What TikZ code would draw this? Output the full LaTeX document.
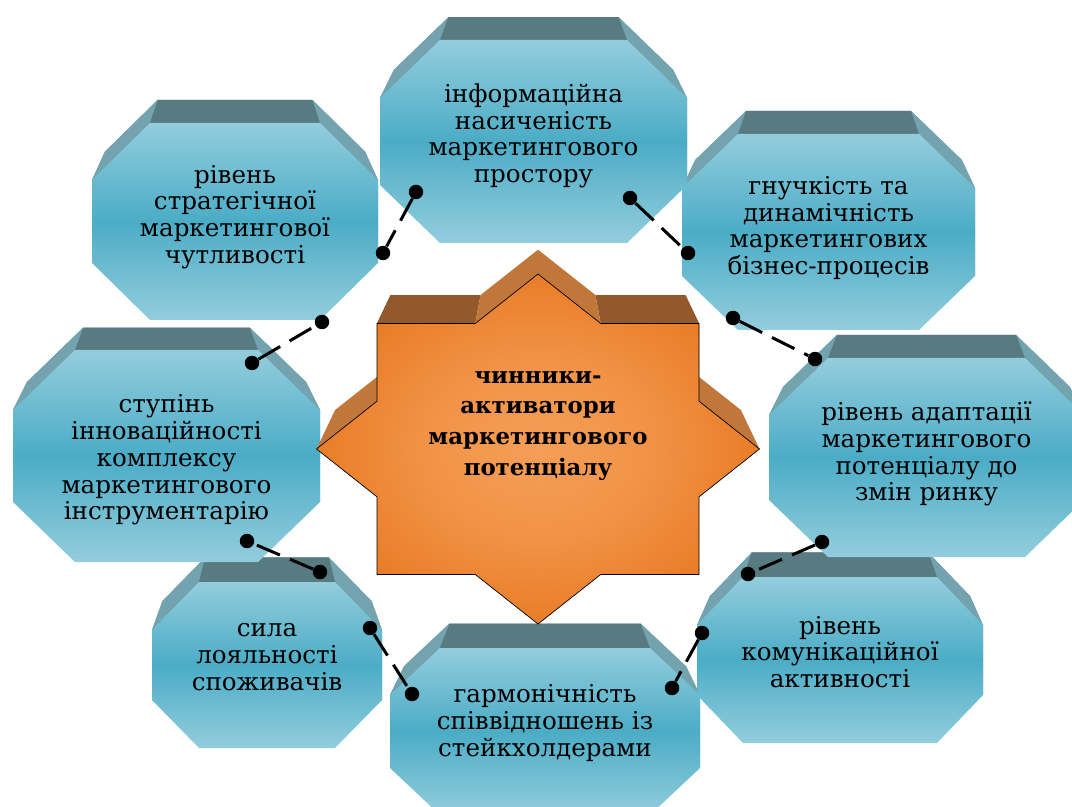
\documentclass[tikz,border=0pt]{standalone}
\usepackage{fontspec}
\setmainfont{DejaVu Serif}
\usetikzlibrary{calc}

\definecolor{tealface}{HTML}{4BACC6}
\definecolor{teallight}{HTML}{93CDDD}
\definecolor{tealtop}{HTML}{587A81}
\definecolor{tealside}{HTML}{72A3AF}
\definecolor{orangeface}{HTML}{E26A0C}
\definecolor{orangelight}{HTML}{F59E57}
\definecolor{orangetop}{HTML}{94592B}
\definecolor{orangeside}{HTML}{C2773A}

\pgfdeclareradialshading{starglow}{\pgfpoint{0bp}{0bp}}{color(0bp)=(orangelight); color(12bp)=(orangelight!80!orangeface); color(36bp)=(orangeface); color(50bp)=(orangeface)}

\tikzset{
  facetext/.style={align=center, inner sep=0pt, font=\fontsize{14}{15.2}\selectfont},
  startext/.style={align=center, inner sep=0pt, font=\fontsize{13}{17.6}\selectfont\bfseries},
  dot/.style={circle, fill=black, inner sep=0pt, minimum size=0.29cm},
  link/.style={line width=0.06cm, dash pattern=on 0.5cm off 0.22cm},
}

% bevelled octagon: name, cx, cy, half width, half height, cut x, cut y, text y, text
\newcommand{\bevelbox}[9]{%
  \begin{scope}[shift={(#2,#3)}]
    \path (-#4+#6,-#5) coordinate (#1-f1) (#4-#6,-#5) coordinate (#1-f2)
          (#4,-#5+#7) coordinate (#1-f3) (#4,#5-#7) coordinate (#1-f4)
          (#4-#6,#5) coordinate (#1-f5) (-#4+#6,#5) coordinate (#1-f6)
          (-#4,#5-#7) coordinate (#1-f7) (-#4,-#5+#7) coordinate (#1-f8);
    \begin{scope}[shift={(0,-32)},scale=0.91]
      \path (-#4+#6,-#5) coordinate (#1-b1) (#4-#6,-#5) coordinate (#1-b2)
            (#4,-#5+#7) coordinate (#1-b3) (#4,#5-#7) coordinate (#1-b4)
            (#4-#6,#5) coordinate (#1-b5) (-#4+#6,#5) coordinate (#1-b6)
            (-#4,#5-#7) coordinate (#1-b7) (-#4,-#5+#7) coordinate (#1-b8);
    \end{scope}
  \end{scope}
  \fill[tealside] (#1-b1) -- (#1-b2) -- (#1-b3) -- (#1-b4) -- (#1-b5) -- (#1-b6) -- (#1-b7) -- (#1-b8) -- cycle;
  \fill[tealside] (#1-b8) -- (#1-b1) -- (#1-f1) -- (#1-f8) -- cycle;
  \fill[tealside] (#1-b2) -- (#1-b3) -- (#1-f3) -- (#1-f2) -- cycle;
  \fill[tealside] (#1-b7) -- (#1-b8) -- (#1-f8) -- (#1-f7) -- cycle;
  \fill[tealside] (#1-b3) -- (#1-b4) -- (#1-f4) -- (#1-f3) -- cycle;
  \fill[tealtop] (#1-b1) -- (#1-b2) -- (#1-f2) -- (#1-f1) -- cycle;
  \shade[top color=teallight, bottom color=teallight, middle color=tealface]
    (#1-f1) -- (#1-f2) -- (#1-f3) -- (#1-f4) -- (#1-f5) -- (#1-f6) -- (#1-f7) -- (#1-f8) -- cycle;
  \node[facetext] (#1) at (#2,#8) {#9};
}

\begin{document}
\begin{tikzpicture}[x=0.02cm,y=-0.02cm]

\useasboundingbox (0,0) rectangle (1072,807);
\clip (0,0) rectangle (1072,807);

% lower row:
\bevelbox{harmony}{545}{731.5}{155}{83.5}{50}{47}{723}{гармонічність\\співвідношень із\\стейкхолдерами}
\bevelbox{loyalty}{267}{665}{115}{83}{47}{48}{657}{сила\\лояльності\\споживачів}
\bevelbox{commun}{840}{660}{143}{83}{46}{48}{652}{рівень\\комунікаційної\\активності}

% middle row:
\bevelbox{innov}{166.5}{456}{153.5}{106}{62}{60}{460}{ступінь\\інноваційності\\комплексу\\маркетингового\\інструментарію}
\bevelbox{adapt}{926.5}{457.5}{157.5}{99.5}{59}{57}{454}{рівень адаптації\\маркетингового\\потенціалу до\\змін ринку}

% top row:
\bevelbox{flex}{828.5}{232}{146.5}{98}{56}{54}{228}{гнучкість та\\динамічність\\маркетингових\\бізнес-процесів}
\bevelbox{strat}{235}{221.5}{143}{98.5}{58}{57}{217}{рівень\\стратегічної\\маркетингової\\чутливості}
\bevelbox{info}{533.5}{141.5}{153.5}{101.5}{60}{58}{136}{інформаційна\\насиченість\\маркетингового\\простору}

% centre star:
\begin{scope}[shift={(538,449)}]
  \foreach \x/\y [count=\i] in {0/-175, 62.7/-125.5, 161/-125.5, 161/-47.8, 221.5/0, 161/47.8,
      161/125.5, 62.7/125.5, 0/175, -62.7/125.5, -161/125.5, -161/47.8, -221.5/0, -161/-47.8,
      -161/-125.5, -62.7/-125.5}
    \coordinate (sf\i) at (\x,\y);
  \begin{scope}[shift={(0,-39)},scale=0.916]
    \foreach \x/\y [count=\i] in {0/-175, 62.7/-125.5, 161/-125.5, 161/-47.8, 221.5/0, 161/47.8,
        161/125.5, 62.7/125.5, 0/175, -62.7/125.5, -161/125.5, -161/47.8, -221.5/0, -161/-47.8,
        -161/-125.5, -62.7/-125.5}
      \coordinate (sb\i) at (\x,\y);
  \end{scope}
\end{scope}
\fill[orangetop] (sb3) -- (sb4) -- (sf4) -- (sf3) -- cycle;
\fill[orangetop] (sb14) -- (sb15) -- (sf15) -- (sf14) -- cycle;
\fill[orangetop] (sb15) -- (sb16) -- (sf16) -- (sf15) -- cycle;
\fill[orangetop] (sb2) -- (sb3) -- (sf3) -- (sf2) -- cycle;
\fill[orangeside] (sb16) -- (sb1) -- (sf1) -- (sf16) -- cycle;
\fill[orangeside] (sb1) -- (sb2) -- (sf2) -- (sf1) -- cycle;
\fill[orangeside] (sb4) -- (sb5) -- (sf5) -- (sf4) -- cycle;
\fill[orangeside] (sb13) -- (sb14) -- (sf14) -- (sf13) -- cycle;
\shade[shading=starglow, draw=black, line width=0.4pt]
  (sf1) -- (sf2) -- (sf3) -- (sf4) -- (sf5) -- (sf6) -- (sf7) -- (sf8) -- (sf9)
  -- (sf10) -- (sf11) -- (sf12) -- (sf13) -- (sf14) -- (sf15) -- (sf16) -- cycle;
\node[startext] (core) at (538,426) {чинники-\\активатори\\маркетингового\\потенціалу};

% links:
\node[dot] (c1a) at (416,192) {};
\node[dot] (c1b) at (383,253) {};
\node[dot] (c2a) at (630,198) {};
\node[dot] (c2b) at (688,253) {};
\node[dot] (c3a) at (733,318) {};
\node[dot] (c3b) at (815,359) {};
\node[dot] (c4a) at (822,542) {};
\node[dot] (c4b) at (748,574) {};
\node[dot] (c5a) at (702,633) {};
\node[dot] (c5b) at (672,688) {};
\node[dot] (c6a) at (370,628) {};
\node[dot] (c6b) at (412,694) {};
\node[dot] (c7a) at (320,572) {};
\node[dot] (c7b) at (247,541) {};
\node[dot] (c8a) at (252,363) {};
\node[dot] (c8b) at (322,322) {};

\draw[link] (c1a) -- (c1b);
\draw[link] (c2a) -- (c2b);
\draw[link] (c3a) -- (c3b);
\draw[link] (c4a) -- (c4b);
\draw[link] (c5a) -- (c5b);
\draw[link] (c6a) -- (c6b);
\draw[link] (c7a) -- (c7b);
\draw[link] (c8a) -- (c8b);

\end{tikzpicture}
\end{document}
